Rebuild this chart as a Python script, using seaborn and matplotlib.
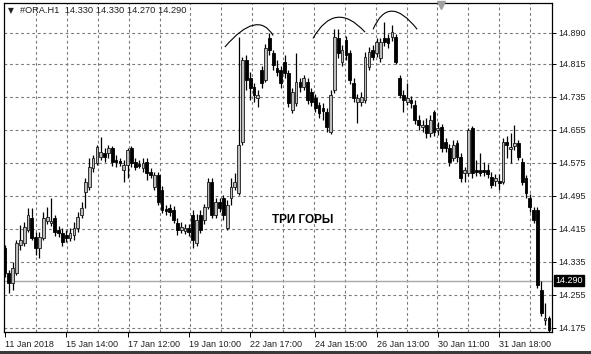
import numpy as np
import pandas as pd
import matplotlib
matplotlib.use("Agg")
import matplotlib.pyplot as plt
import matplotlib.transforms as mtransforms
from matplotlib.path import Path
from matplotlib.patches import PathPatch, Rectangle
import seaborn as sns

# ---------------- data (H1 candles of #ORA) ----------------
opens = [14.369, 14.308, 14.284, 14.308, 14.376, 14.381, 14.412, 14.441, 14.395, 14.369,
         14.393, 14.434, 14.429, 14.441, 14.412, 14.405, 14.400, 14.393, 14.400, 14.417,
         14.449, 14.505, 14.516, 14.562, 14.575, 14.589, 14.599, 14.599, 14.611, 14.582,
         14.580, 14.558, 14.570, 14.611, 14.577, 14.572, 14.562, 14.577, 14.553, 14.516,
         14.546, 14.509, 14.463, 14.466, 14.461, 14.429, 14.412, 14.410, 14.417, 14.449,
         14.381, 14.449, 14.437, 14.468, 14.529, 14.449, 14.480, 14.490, 14.417, 14.490,
         14.516, 14.502, 14.625, 14.824, 14.780, 14.759, 14.732, 14.800, 14.776, 14.877,
         14.841, 14.805, 14.800, 14.819, 14.793, 14.703, 14.720, 14.771, 14.759, 14.771,
         14.747, 14.732, 14.715, 14.708, 14.698, 14.650, 14.751, 14.877, 14.819, 14.872,
         14.841, 14.768, 14.722, 14.722, 14.727, 14.807, 14.848, 14.841, 14.829, 14.877,
         14.877, 14.880, 14.880, 14.780, 14.739, 14.722, 14.727, 14.715, 14.679, 14.662,
         14.667, 14.647, 14.698, 14.654, 14.662, 14.625, 14.611, 14.587, 14.623, 14.589,
         14.550, 14.550, 14.659, 14.558, 14.558, 14.558, 14.558, 14.541, 14.531, 14.531,
         14.529, 14.625, 14.608, 14.616, 14.623, 14.577, 14.538, 14.490, 14.461, 14.461,
         14.267, 14.194, 14.199]
highs = [14.376, 14.315, 14.335, 14.388, 14.424, 14.432, 14.466, 14.466, 14.407, 14.407,
         14.456, 14.468, 14.490, 14.449, 14.422, 14.417, 14.412, 14.417, 14.432, 14.456,
         14.480, 14.538, 14.587, 14.594, 14.618, 14.638, 14.611, 14.618, 14.616, 14.594,
         14.587, 14.582, 14.611, 14.616, 14.587, 14.582, 14.587, 14.587, 14.562, 14.553,
         14.553, 14.519, 14.473, 14.475, 14.470, 14.441, 14.432, 14.427, 14.427, 14.461,
         14.451, 14.461, 14.475, 14.538, 14.538, 14.490, 14.490, 14.497, 14.485, 14.538,
         14.550, 14.880, 14.831, 14.836, 14.795, 14.768, 14.751, 14.810, 14.863, 14.889,
         14.848, 14.824, 14.810, 14.836, 14.800, 14.756, 14.841, 14.780, 14.788, 14.780,
         14.756, 14.742, 14.722, 14.720, 14.708, 14.751, 14.899, 14.899, 14.860, 14.882,
         14.848, 14.780, 14.742, 14.747, 14.843, 14.856, 14.860, 14.877, 14.877, 14.916,
         14.887, 14.909, 14.887, 14.788, 14.751, 14.768, 14.737, 14.727, 14.691, 14.679,
         14.684, 14.691, 14.703, 14.674, 14.669, 14.635, 14.621, 14.630, 14.630, 14.599,
         14.565, 14.659, 14.664, 14.582, 14.599, 14.577, 14.572, 14.553, 14.548, 14.548,
         14.635, 14.640, 14.647, 14.667, 14.630, 14.587, 14.546, 14.499, 14.468, 14.468,
         14.289, 14.236, 14.204]
lows = [14.299, 14.260, 14.267, 14.303, 14.364, 14.374, 14.407, 14.388, 14.352, 14.345,
        14.388, 14.427, 14.422, 14.398, 14.395, 14.374, 14.383, 14.386, 14.388, 14.407,
        14.441, 14.466, 14.509, 14.553, 14.570, 14.582, 14.577, 14.587, 14.567, 14.565,
        14.567, 14.529, 14.538, 14.565, 14.558, 14.562, 14.553, 14.533, 14.538, 14.509,
        14.473, 14.453, 14.449, 14.446, 14.429, 14.400, 14.405, 14.403, 14.398, 14.369,
        14.374, 14.405, 14.427, 14.463, 14.441, 14.441, 14.456, 14.437, 14.412, 14.473,
        14.509, 14.497, 14.618, 14.751, 14.727, 14.722, 14.710, 14.756, 14.771, 14.836,
        14.800, 14.785, 14.756, 14.780, 14.710, 14.696, 14.713, 14.747, 14.751, 14.718,
        14.713, 14.698, 14.684, 14.679, 14.650, 14.645, 14.744, 14.829, 14.810, 14.824,
        14.766, 14.722, 14.672, 14.713, 14.720, 14.800, 14.824, 14.831, 14.819, 14.858,
        14.853, 14.870, 14.814, 14.732, 14.698, 14.715, 14.708, 14.669, 14.654, 14.650,
        14.635, 14.638, 14.640, 14.642, 14.601, 14.601, 14.567, 14.580, 14.577, 14.529,
        14.529, 14.543, 14.538, 14.543, 14.543, 14.543, 14.538, 14.514, 14.519, 14.509,
        14.524, 14.587, 14.575, 14.606, 14.582, 14.521, 14.490, 14.456, 14.429, 14.272,
        14.204, 14.182, 14.165]
closes = [14.308, 14.284, 14.320, 14.381, 14.388, 14.420, 14.449, 14.393, 14.369, 14.395,
          14.441, 14.444, 14.434, 14.407, 14.405, 14.383, 14.393, 14.405, 14.417, 14.444,
          14.466, 14.529, 14.565, 14.587, 14.613, 14.601, 14.589, 14.611, 14.577, 14.577,
          14.575, 14.570, 14.606, 14.575, 14.565, 14.567, 14.575, 14.550, 14.546, 14.546,
          14.480, 14.461, 14.458, 14.456, 14.437, 14.412, 14.420, 14.417, 14.407, 14.388,
          14.437, 14.412, 14.468, 14.529, 14.449, 14.480, 14.466, 14.449, 14.473, 14.516,
          14.529, 14.618, 14.824, 14.776, 14.756, 14.739, 14.739, 14.768, 14.853, 14.848,
          14.812, 14.795, 14.768, 14.793, 14.720, 14.747, 14.771, 14.759, 14.780, 14.727,
          14.722, 14.708, 14.696, 14.701, 14.662, 14.739, 14.880, 14.841, 14.848, 14.836,
          14.776, 14.732, 14.732, 14.734, 14.831, 14.843, 14.831, 14.868, 14.868, 14.868,
          14.865, 14.892, 14.819, 14.739, 14.727, 14.732, 14.720, 14.679, 14.667, 14.667,
          14.647, 14.679, 14.650, 14.659, 14.611, 14.611, 14.577, 14.618, 14.589, 14.538,
          14.558, 14.654, 14.550, 14.553, 14.550, 14.553, 14.548, 14.521, 14.538, 14.526,
          14.625, 14.618, 14.613, 14.623, 14.589, 14.529, 14.502, 14.468, 14.437, 14.279,
          14.211, 14.199, 14.170]

price_ticks = [14.175, 14.255, 14.335, 14.415, 14.495, 14.575, 14.655, 14.735, 14.815, 14.890]
price_labels = ["14.175", "14.255", "14.335", "14.415", "14.495", "14.575", "14.655", "14.735", "14.815", "14.890"]
time_labels = ["11 Jan 2018", "15 Jan 14:00", "17 Jan 12:00", "19 Jan 10:00", "22 Jan 17:00",
               "24 Jan 15:00", "26 Jan 13:00", "30 Jan 11:00", "31 Jan 18:00"]
time_label_bars = [0, 16, 32, 48, 64, 81, 97, 113, 129]
current_price = 14.290
header = "#ORA.H1  14.330 14.330 14.270 14.290"
annotation = "ТРИ ГОРЫ"

# ---------------- figure ----------------
sns.set_theme(style="white")
plt.rcParams['font.family'] = ['Liberation Sans', 'DejaVu Sans']

W, H = 591, 354
fig = plt.figure(figsize=(W / 100, H / 100), dpi=100)
fig.patch.set_facecolor("white")
ax = fig.add_axes([4 / W, 22 / H, 548 / W, 329 / H])
ax.set_facecolor("white")

df = pd.DataFrame({"o": opens, "h": highs, "l": lows, "c": closes})
df["i"] = np.arange(len(df))
df["bull"] = df["c"] >= df["o"]
df["bot"] = df[["o", "c"]].min(axis=1)
df["ht"] = (df["c"] - df["o"]).abs().clip(lower=0.0025)

ax.set_xlim(-0.26, 142.8)
ax.set_ylim(14.1653, 14.9627)

# grid
grid_bars = [8.1, 16.2, 24.3, 32.4, 40.5, 48.3, 56.4, 64.5, 72.6, 80.7, 88.8, 96.9,
             105.0, 112.8, 120.9, 129.0, 137.1]
for gx in grid_bars:
    ax.axvline(gx, color="#7a7a7a", lw=0.8, ls=(0, (2.5, 2.5)), zorder=1)
for gy in price_ticks:
    ax.axhline(gy, color="#7a7a7a", lw=0.8, ls=(0, (2.5, 2.5)), zorder=1)

# current price line
ax.axhline(current_price, color="#a8a8a8", lw=1.0, zorder=2)

# candles
ax.vlines(df["i"], df["l"], df["h"], color="black", lw=0.9, zorder=3)
bull = df[df["bull"]]
bear = df[~df["bull"]]
ax.bar(bull["i"], bull["ht"], bottom=bull["bot"], width=0.72, color="#bdbdbd",
       edgecolor="#1a1a1a", linewidth=0.6, zorder=4)
ax.bar(bear["i"], bear["ht"], bottom=bear["bot"], width=0.72, color="black",
       edgecolor="black", linewidth=0.6, zorder=4)

# axes styling
for s in ax.spines.values():
    s.set_color("black")
    s.set_linewidth(0.9)
ax.yaxis.tick_right()
ax.set_yticks(price_ticks)
ax.set_yticklabels(price_labels)
ax.set_xticks(time_label_bars)
ax.set_xticklabels(time_labels, ha="left")
ax.tick_params(axis="y", which="major", direction="out", length=3, width=0.7, pad=1.5,
               labelsize=6.5, colors="black", labelcolor="#202020")
ax.tick_params(axis="x", which="major", direction="out", length=3.5, width=0.7, pad=2.5,
               labelsize=6.5, colors="black", labelcolor="#202020")
ax.tick_params(left=False, right=True, bottom=True, top=False)
ax.grid(False)

# current price label box
trans = mtransforms.blended_transform_factory(ax.transAxes, ax.transData)
ax.text(1.006, current_price, f"{current_price:.3f}", transform=trans, ha="left", va="center",
        fontsize=6.5, color="white", clip_on=False,
        bbox=dict(boxstyle="square,pad=0.15", fc="black", ec="black"))

# header
ax.text(0.007, 0.976, "▼", transform=ax.transAxes, ha="left", va="center",
        fontsize=5.5, color="#202020", family="DejaVu Sans")
ax.text(0.030, 0.976, header, transform=ax.transAxes, ha="left", va="center",
        fontsize=6.7, color="#202020")

# shift marker at top
ax.plot([0.797], [0.993], marker="v", ms=6, color="#a0a0a0", mec="#a0a0a0",
        transform=ax.transAxes, clip_on=False, zorder=6)

# annotation text
ax.text(69.7, 14.436, annotation, ha="left", va="center", fontsize=8.5,
        fontweight="bold", color="black", zorder=6)

# three "mountain" arcs (quadratic curves: start, control, end)
arcs = [
    [(57.4, 14.856), (65.9, 14.948), (70.0, 14.884)],
    [(80.4, 14.877), (86.2, 14.9715), (94.0, 14.892)],
    [(96.1, 14.899), (100.15, 14.987), (107.6, 14.899)],
]
for pts in arcs:
    p = Path(pts, [Path.MOVETO, Path.CURVE3, Path.CURVE3])
    ax.add_patch(PathPatch(p, fc="none", ec="black", lw=0.8, zorder=6))

# window border at bottom
fig.add_artist(Rectangle((0, 0), 1, 3 / H, transform=fig.transFigure,
                         color="#3a3a3a", lw=0))

fig.savefig("out.png", dpi=100, facecolor="white")
